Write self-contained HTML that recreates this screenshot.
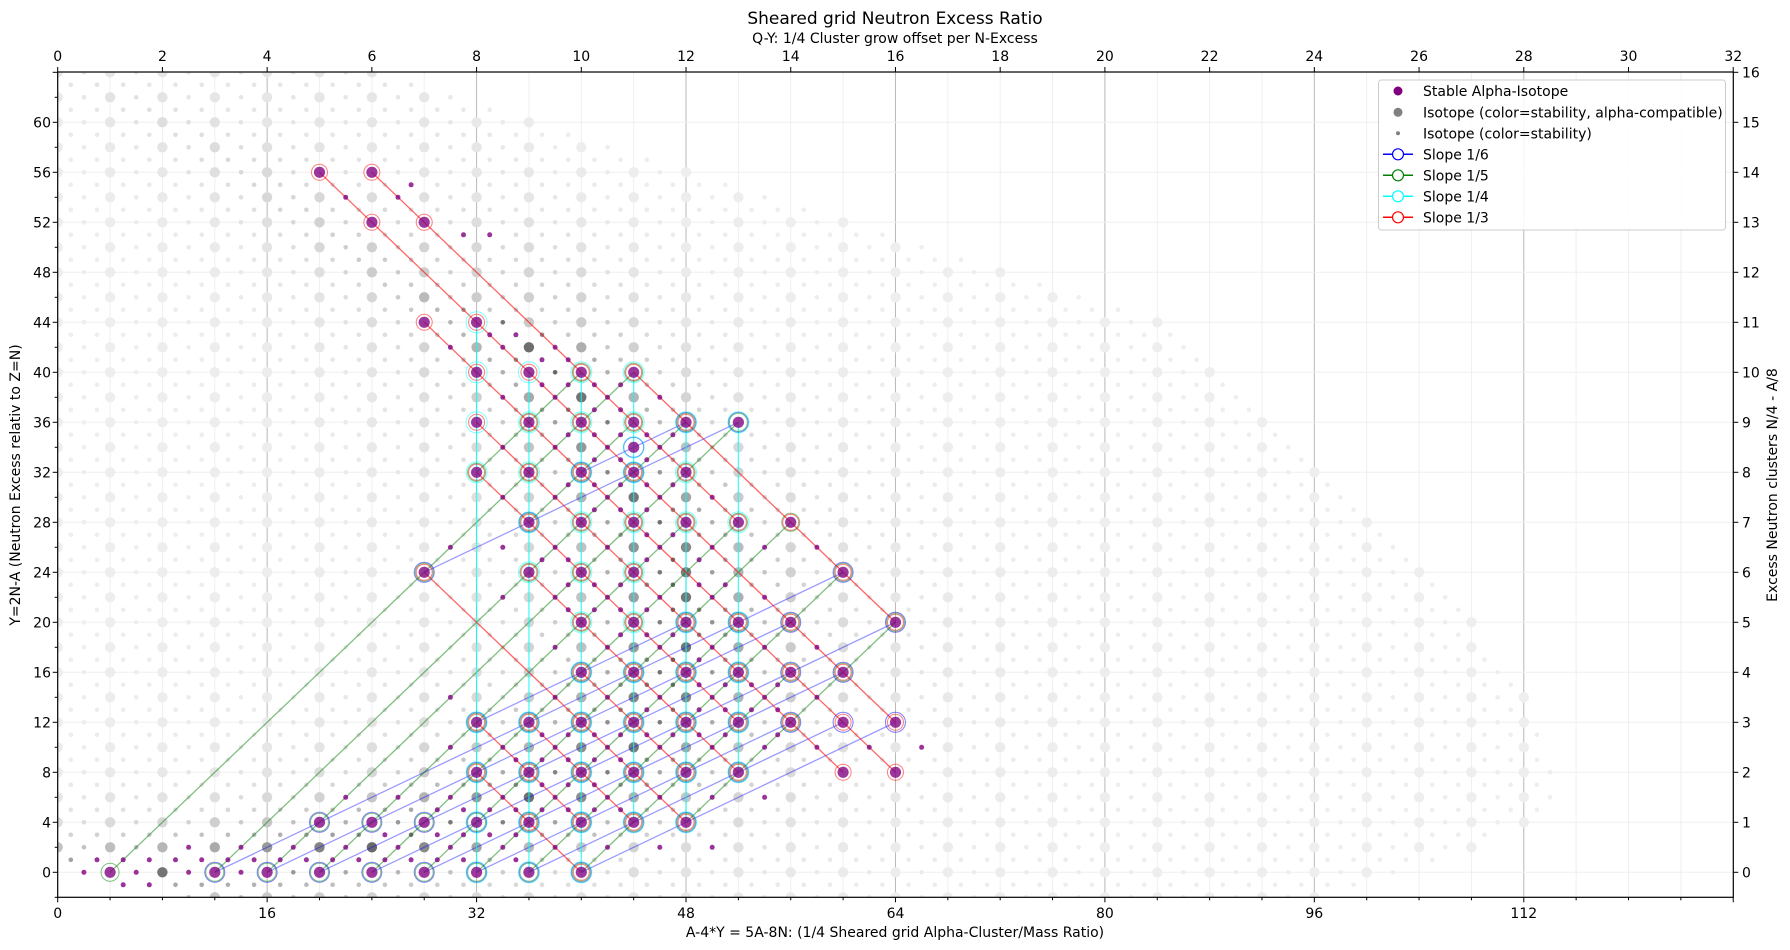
<!DOCTYPE html>
<html><head><meta charset="utf-8">
<style>
html,body{margin:0;padding:0;background:#fff;}
svg{display:block;font-family:"DejaVu Sans","Liberation Sans",sans-serif;}
</style></head>
<body>
<svg id="s" width="1790" height="950" viewBox="0 0 1790 950" xmlns="http://www.w3.org/2000/svg">
<defs><clipPath id="cp"><rect x="57.7" y="72" width="1675.6" height="825.3"/></clipPath></defs>
<rect width="1790" height="950" fill="#fff"/>
<g id="grid"></g>
<g id="plot" clip-path="url(#cp)"></g>
<g id="ticks" stroke="#000" stroke-width="1"></g>
<rect x="57.7" y="72" width="1675.6" height="825.3" fill="none" stroke="#000" stroke-width="1.2"/>
<text x="895" y="24" font-size="17" text-anchor="middle">Sheared grid Neutron Excess Ratio</text>
<text x="895" y="43" font-size="14" text-anchor="middle">Q-Y: 1/4 Cluster grow offset per N-Excess</text>
<text x="895" y="937" font-size="14" text-anchor="middle">A-4*Y = 5A-8N: (1/4 Sheared grid Alpha-Cluster/Mass Ratio)</text>
<text transform="translate(20,485) rotate(-90)" font-size="14" text-anchor="middle">Y=2N-A (Neutron Excess relativ to Z=N)</text>
<text transform="translate(1777,485) rotate(-90)" font-size="14" text-anchor="middle">Excess Neutron clusters N/4 - A/8</text>
<g font-size="14" text-anchor="end">
<text x="51" y="877.3">0</text><text x="51" y="827.3">4</text><text x="51" y="777.3">8</text><text x="51" y="727.3">12</text><text x="51" y="677.3">16</text><text x="51" y="627.3">20</text><text x="51" y="577.3">24</text><text x="51" y="527.3">28</text><text x="51" y="477.3">32</text><text x="51" y="427.3">36</text><text x="51" y="377.3">40</text><text x="51" y="327.3">44</text><text x="51" y="277.3">48</text><text x="51" y="227.3">52</text><text x="51" y="177.3">56</text><text x="51" y="127.3">60</text>
</g>
<g font-size="14" text-anchor="start">
<text x="1742" y="877.3">0</text><text x="1742" y="827.3">1</text><text x="1742" y="777.3">2</text><text x="1742" y="727.3">3</text><text x="1742" y="677.3">4</text><text x="1742" y="627.3">5</text><text x="1742" y="577.3">6</text><text x="1742" y="527.3">7</text><text x="1742" y="477.3">8</text><text x="1742" y="427.3">9</text><text x="1742" y="377.3">10</text><text x="1742" y="327.3">11</text><text x="1742" y="277.3">12</text><text x="1742" y="227.3">13</text><text x="1742" y="177.3">14</text><text x="1742" y="127.3">15</text><text x="1742" y="77.3">16</text>
</g>
<g font-size="14" text-anchor="middle">
<text x="57.7" y="918">0</text><text x="267.1" y="918">16</text><text x="476.6" y="918">32</text><text x="686.0" y="918">48</text><text x="895.5" y="918">64</text><text x="1104.9" y="918">80</text><text x="1314.3" y="918">96</text><text x="1523.8" y="918">112</text>
</g>
<g font-size="14" text-anchor="middle">
<text x="57.7" y="61">0</text><text x="162.4" y="61">2</text><text x="267.1" y="61">4</text><text x="371.9" y="61">6</text><text x="476.6" y="61">8</text><text x="581.3" y="61">10</text><text x="686.0" y="61">12</text><text x="790.7" y="61">14</text><text x="895.5" y="61">16</text><text x="1000.2" y="61">18</text><text x="1104.9" y="61">20</text><text x="1209.6" y="61">22</text><text x="1314.3" y="61">24</text><text x="1419.1" y="61">26</text><text x="1523.8" y="61">28</text><text x="1628.5" y="61">30</text><text x="1733.3" y="61">32</text>
</g>
<g id="legend">
<rect x="1378.5" y="80" width="347" height="150" rx="3" fill="#fff" fill-opacity="0.85" stroke="#ccc"/>
<circle cx="1398" cy="91" r="4.5" fill="#800080"/>
<circle cx="1398" cy="112.3" r="4.5" fill="#808080"/>
<circle cx="1398" cy="133.3" r="2" fill="#808080"/>
<line x1="1383" y1="154.3" x2="1413" y2="154.3" stroke="#0000ff" stroke-width="1.5"/><circle cx="1398" cy="154.3" r="5.5" fill="#fff" stroke="#0000ff" stroke-width="1.2"/>
<line x1="1383" y1="175.3" x2="1413" y2="175.3" stroke="#008000" stroke-width="1.5"/><circle cx="1398" cy="175.3" r="5.5" fill="#fff" stroke="#008000" stroke-width="1.2"/>
<line x1="1383" y1="196.3" x2="1413" y2="196.3" stroke="#00ffff" stroke-width="1.5"/><circle cx="1398" cy="196.3" r="5.5" fill="#fff" stroke="#00ffff" stroke-width="1.2"/>
<line x1="1383" y1="217.3" x2="1413" y2="217.3" stroke="#ff0000" stroke-width="1.5"/><circle cx="1398" cy="217.3" r="5.5" fill="#fff" stroke="#ff0000" stroke-width="1.2"/>
<g font-size="14">
<text x="1423" y="96">Stable Alpha-Isotope</text>
<text x="1423" y="117.3">Isotope (color=stability, alpha-compatible)</text>
<text x="1423" y="138.3">Isotope (color=stability)</text>
<text x="1423" y="159.3">Slope 1/6</text>
<text x="1423" y="180.3">Slope 1/5</text>
<text x="1423" y="201.3">Slope 1/4</text>
<text x="1423" y="222.3">Slope 1/3</text>
</g>
</g>
</svg>
<script>
(function(){
var X0=57.7,SX=13.09,Y0=872.3,SY=12.5;
function px(x){return X0+SX*x;} function py(y){return Y0-SY*y;}
var g='',t='';
for(var x=4;x<128;x+=4){var c=(x%16==0)?'#b8b8b8':'#efefef';g+='<line x1="'+px(x)+'" y1="72" x2="'+px(x)+'" y2="897.3" stroke="'+c+'" stroke-width="1"/>';}
for(var y=0;y<=64;y+=4){g+='<line x1="57.7" y1="'+py(y)+'" x2="1733.3" y2="'+py(y)+'" stroke="#efefef" stroke-width="1"/>';}
document.getElementById('grid').innerHTML=g;
for(var x=0;x<=128;x+=4){var L=(x%16==0)?5:3;t+='<line x1="'+px(x)+'" y1="897.3" x2="'+px(x)+'" y2="'+(897.3+L)+'"/>';}
for(var x=0;x<=128;x+=8){t+='<line x1="'+px(x)+'" y1="72" x2="'+px(x)+'" y2="67"/>';}
for(var y=-2;y<=64;y+=2){if(py(y)>897.5||py(y)<71.5)continue;var L=(y%4==0)?5:3;t+='<line x1="57.7" y1="'+py(y)+'" x2="'+(57.7-L)+'" y2="'+py(y)+'"/>';}
for(var y=0;y<=64;y+=4){t+='<line x1="1733.3" y1="'+py(y)+'" x2="1738.3" y2="'+py(y)+'"/>';}
document.getElementById('ticks').innerHTML=t;
var ST={1:[1,2],2:[3,4],3:[6,7],4:[9],5:[10,11],6:[12,13],7:[14,15],8:[16,17,18],9:[19],10:[20,21,22],11:[23],12:[24,25,26],13:[27],14:[28,29,30],15:[31],16:[32,33,34,36],17:[35,37],18:[36,38,40],19:[39,41],20:[40,42,43,44,46],21:[45],22:[46,47,48,49,50],23:[51],24:[50,52,53,54],25:[55],26:[54,56,57,58],27:[59],28:[58,60,61,62,64],29:[63,65],30:[64,66,67,68,70],31:[69,71],32:[70,72,73,74],33:[75],34:[74,76,77,78,80],35:[79,81],36:[78,80,82,83,84,86],37:[85],38:[84,86,87,88],39:[89],40:[90,91,92,94],41:[93],42:[92,94,95,96,97,98],44:[96,98,99,100,101,102,104],45:[103],46:[102,104,105,106,108,110],47:[107,109],48:[106,108,110,111,112,114],49:[113],50:[112,114,115,116,117,118,119,120,122,124],51:[121,123],52:[120,122,123,124,125,126],53:[127],54:[124,126,128,129,130,131,132,134],55:[133],56:[130,132,134,135,136,137,138],57:[139],58:[136,138,140,142],59:[141],60:[142,143,145,146,148],62:[144,149,150,152,154],63:[153],64:[154,155,156,157,158,160],65:[159],66:[156,158,160,161,162,163,164],67:[165],68:[162,164,166,167,168,170],69:[169],70:[168,170,171,172,173,174,176],71:[175],72:[176,177,178,179,180],73:[180,181],74:[182,183,184,186],75:[185],76:[187,188,189,190,192],77:[191,193],78:[192,194,195,196,198],79:[197],80:[196,198,199,200,201,202,204],81:[203,205],82:[204,206,207,208],90:[232],92:[235,236,238],93:[237],94:[242,244],96:[247,248]};
function isStable(Z,A){var a=ST[Z];return a&&a.indexOf(A)>=0;}
var dots='',big='',purp='';
var SA={};
for(var Y=-2;Y<=64;Y++){
 for(var X=-1;X<=130;X++){
  if(((X-Y)%2+2)%2!=0)continue;
  var Z=(X+3*Y)/2,N=Z+Y,A=Z+N;
  if(Z<1||N<0)continue;
  var st=isStable(Z,A);
  var Zs=A/(1.98+0.0155*Math.pow(A,2/3));
  var d=Z-Zs;
  if(!st){
   if(Z>108)continue;
   if(d>0&&d>Math.min(3+A/25,8.5))continue;
   if(d<0&&-d>3.5+A/40)continue;
  }
  var cx=px(X).toFixed(1),cy=py(Y).toFixed(1);
  var al=(A%4==0);
  if(st){
   if(al){purp+='<circle cx="'+cx+'" cy="'+cy+'" r="5.6" fill="#800080" fill-opacity="0.78"/>';SA[X+','+Y]=[X,Y];}
   else purp+='<circle cx="'+cx+'" cy="'+cy+'" r="2.5" fill="#800080" fill-opacity="0.8"/>';
  } else {
   var ad=Math.abs(d);
   var gv=Math.round(238-135*Math.exp(-ad/0.8));
   if(Z>83) gv=Math.max(gv,Math.round(200+Math.min(30,(Z-83)*2)));
   if(ad>4) gv=Math.max(gv,236);
   var col='rgb('+gv+','+gv+','+gv+')';
   if(al) big+='<circle cx="'+cx+'" cy="'+cy+'" r="5.2" fill="'+col+'"/>';
   else dots+='<circle cx="'+cx+'" cy="'+cy+'" r="2.3" fill="'+col+'"/>';
  }
 }
}
var fam=[
 {col:'#0000ff',op:0.4,r:10,key:function(x,y){return 2*y-x;},ok:function(k,n){return n>=3;}},
 {col:'#008000',op:0.5,r:9,key:function(x,y){return y-x;},ok:function(k,n){return n>=3;}},
 {col:'#00ffff',op:0.7,r:10.5,key:function(x,y){return x;},ok:function(k,n){return k>=32&&k<=52&&n>=2;}},
 {col:'#ff0000',op:0.6,r:8,key:function(x,y){return x+y;},ok:function(k,n){return n>=3;}}
];
var lines='',rings='';
fam.forEach(function(f,fi){
 var grp={};
 for(var k in SA){var q=SA[k];var kk=f.key(q[0],q[1]);(grp[kk]=grp[kk]||[]).push(q);}
 for(var kk in grp){
  var a=grp[kk];if(!f.ok(+kk,a.length))continue;
  a.sort(function(u,v){return fi==2?(u[1]-v[1]):(u[0]-v[0]);});
  var s=a[0],e=a[a.length-1];
  lines+='<line x1="'+px(s[0])+'" y1="'+py(s[1])+'" x2="'+px(e[0])+'" y2="'+py(e[1])+'" stroke="'+f.col+'" stroke-opacity="'+f.op+'" stroke-width="1.3"/>';
  a.forEach(function(q){rings+='<circle cx="'+px(q[0])+'" cy="'+py(q[1])+'" r="'+f.r+'" fill="none" stroke="'+f.col+'" stroke-opacity="0.5" stroke-width="1"/>';});
 }
});
document.getElementById('plot').innerHTML=dots+big+lines+purp+rings;
})();
</script>
</body></html>
